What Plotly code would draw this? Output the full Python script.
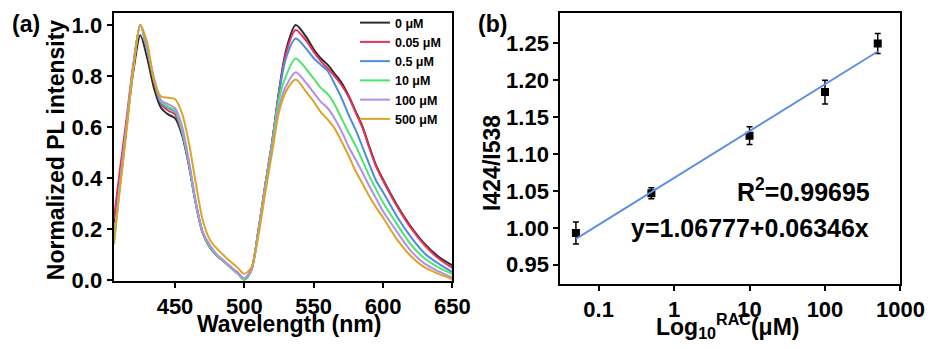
import plotly.graph_objects as go

# (a) normalized PL spectra
wavelength = [406, 410, 415, 420, 425, 430, 435, 440, 445, 450, 455, 460, 465, 470, 475,
              480, 485, 490, 495, 500, 505, 510, 515, 520, 525, 530, 537, 545, 550, 555,
              560, 565, 570, 575, 580, 585, 590, 595, 600, 610, 620, 630, 640, 650]

pl_0 = [0.225, 0.40, 0.61, 0.82, 0.96, 0.87, 0.75, 0.675, 0.65, 0.635, 0.57, 0.45, 0.30, 0.185, 0.13,
        0.097, 0.075, 0.052, 0.03, 0.003, 0.04, 0.19, 0.37, 0.54, 0.74, 0.90, 1.0, 0.95, 0.905, 0.87,
        0.845, 0.81, 0.775, 0.725, 0.665, 0.605, 0.525, 0.45, 0.395, 0.295, 0.21, 0.142, 0.092, 0.058]
pl_005 = [0.24, 0.42, 0.63, 0.85, 1.0, 0.90, 0.775, 0.69, 0.665, 0.65, 0.58, 0.455, 0.30, 0.185, 0.13,
          0.097, 0.075, 0.05, 0.028, 0.005, 0.04, 0.19, 0.37, 0.54, 0.74, 0.89, 0.981, 0.935, 0.895, 0.86,
          0.83, 0.80, 0.765, 0.72, 0.66, 0.60, 0.52, 0.445, 0.39, 0.29, 0.205, 0.137, 0.085, 0.048]
pl_05 = [0.17, 0.37, 0.60, 0.84, 1.0, 0.90, 0.78, 0.695, 0.675, 0.66, 0.585, 0.455, 0.30, 0.185, 0.132,
         0.098, 0.075, 0.05, 0.027, 0.004, 0.04, 0.19, 0.37, 0.54, 0.73, 0.87, 0.947, 0.905, 0.87, 0.845,
         0.82, 0.77, 0.715, 0.65, 0.592, 0.525, 0.455, 0.39, 0.345, 0.25, 0.17, 0.105, 0.065, 0.032]
pl_10 = [0.14, 0.36, 0.60, 0.84, 1.0, 0.905, 0.785, 0.70, 0.68, 0.665, 0.59, 0.46, 0.30, 0.187, 0.133,
         0.098, 0.075, 0.05, 0.026, 0.002, 0.04, 0.19, 0.37, 0.53, 0.71, 0.80, 0.869, 0.825, 0.79, 0.755,
         0.73, 0.69, 0.635, 0.58, 0.53, 0.47, 0.41, 0.355, 0.305, 0.22, 0.14, 0.085, 0.05, 0.024]
pl_100 = [0.16, 0.36, 0.60, 0.84, 1.0, 0.91, 0.79, 0.705, 0.69, 0.675, 0.605, 0.47, 0.31, 0.19, 0.14,
          0.102, 0.078, 0.053, 0.028, 0.008, 0.042, 0.185, 0.36, 0.52, 0.68, 0.76, 0.815, 0.77, 0.735, 0.70,
          0.675, 0.635, 0.585, 0.525, 0.475, 0.424, 0.37, 0.32, 0.27, 0.19, 0.115, 0.065, 0.035, 0.01]
pl_500 = [0.15, 0.34, 0.58, 0.83, 1.0, 0.93, 0.78, 0.72, 0.715, 0.71, 0.655, 0.54, 0.38, 0.235, 0.16,
          0.125, 0.098, 0.073, 0.05, 0.025, 0.05, 0.17, 0.34, 0.50, 0.66, 0.74, 0.787, 0.735, 0.70, 0.66,
          0.63, 0.595, 0.545, 0.49, 0.43, 0.38, 0.33, 0.285, 0.245, 0.16, 0.095, 0.05, 0.025, 0.004]

series_names = ["0 μM", "0.05 μM", "0.5 μM", "10 μM", "100 μM", "500 μM"]
series_values = [pl_0, pl_005, pl_05, pl_10, pl_100, pl_500]
series_colors = ["#2d2d2d", "#e8315b", "#4b8ede", "#4ee66a", "#b28ee6", "#dba426"]

# (b) ratio vs concentration
conc = [0.05, 0.5, 10, 100, 500]
ratio = [0.993, 1.047, 1.125, 1.184, 1.250]
ratio_err = [0.015, 0.0075, 0.012, 0.016, 0.0135]
fit_x = [0.05, 500]
fit_y = [0.985, 1.239]

font_family = "Arial, 'Liberation Sans', sans-serif"
tick_font = dict(family=font_family, size=22, color="black", weight="bold")
title_font = dict(family=font_family, size=23, color="black", weight="bold")
note_font = dict(family=font_family, size=25, color="black", weight="bold")

fig = go.Figure()

for name, vals, col in zip(series_names, series_values, series_colors):
    fig.add_trace(go.Scatter(
        x=wavelength, y=vals, name=name, mode="lines",
        line=dict(color=col, width=2, shape="spline", smoothing=0.8),
        xaxis="x", yaxis="y"
    ))

fig.add_trace(go.Scatter(
    x=conc, y=ratio, mode="markers", showlegend=False,
    marker=dict(symbol="square", size=8, color="black"),
    error_y=dict(type="data", array=ratio_err, color="black", thickness=1.5, width=3),
    xaxis="x2", yaxis="y2"
))
fig.add_trace(go.Scatter(
    x=fit_x, y=fit_y, mode="lines", showlegend=False,
    line=dict(color="#5b8de0", width=1.8),
    xaxis="x2", yaxis="y2"
))

axis_common = dict(
    showline=True, linewidth=2, linecolor="black", mirror=True,
    ticks="outside", ticklen=5, tickwidth=2, tickcolor="black",
    showgrid=False, zeroline=False, tickfont=tick_font
)

fig.update_layout(
    width=945, height=349,
    margin=dict(l=0, r=0, t=0, b=0),
    paper_bgcolor="white", plot_bgcolor="white",
    xaxis=dict(domain=[108.3 / 945, 456 / 945], range=[405.7, 650],
               tickvals=[450, 500, 550, 600, 650], **axis_common),
    yaxis=dict(domain=[1 - 282.7 / 349, 1 - 5 / 349], range=[-0.003, 1.048],
               tickvals=[0, 0.2, 0.4, 0.6, 0.8, 1.0], tickformat=".1f", **axis_common),
    xaxis2=dict(domain=[566.7 / 945, 915.7 / 945], type="log", range=[-1.508, 3],
                tickvals=[0.1, 1, 10, 100, 1000], ticktext=["0.1", "1", "10", "100", "1000"],
                anchor="y2", **axis_common),
    yaxis2=dict(domain=[1 - 285.7 / 349, 1 - 5 / 349], range=[0.924, 1.2915],
                tickvals=[0.95, 1.0, 1.05, 1.1, 1.15, 1.2, 1.25], tickformat=".2f",
                anchor="x2", **axis_common),
    legend=dict(x=356 / 945, y=1, xanchor="left", yanchor="top",
                bgcolor="rgba(0,0,0,0)", borderwidth=0,
                font=dict(family=font_family, size=12.5, color="black", weight="bold"),
                tracegroupgap=0),
    showlegend=True,
)

annotations = [
    dict(text="(a)", x=18 / 945, y=1 - 17 / 349, font=title_font),
    dict(text="(b)", x=497 / 945, y=1 - 17 / 349, font=title_font),
    dict(text="Normalized PL intensity", x=50 / 945, y=1 - 146.5 / 349, textangle=-90, font=title_font),
    dict(text="Wavelength (nm)", x=288 / 945, y=1 - 327 / 349, font=title_font),
    dict(text="I424/I538", x=497 / 945, y=1 - 160 / 349, textangle=-90, font=title_font),
    dict(text="Log<sub>10</sub><sup>RAC</sup>(μM)", x=739 / 945, y=1 - 329 / 349, font=title_font),
    dict(text="R<sup>2</sup>=0.99695", x=887 / 945, y=1 - 188 / 349, xanchor="right", font=note_font),
    dict(text="y=1.06777+0.06346x", x=886 / 945, y=1 - 228 / 349, xanchor="right", font=note_font),
]
for a in annotations:
    a.setdefault("xanchor", "center")
    fig.add_annotation(xref="paper", yref="paper", yanchor="middle", showarrow=False, **a)

fig.write_html("out.html")
